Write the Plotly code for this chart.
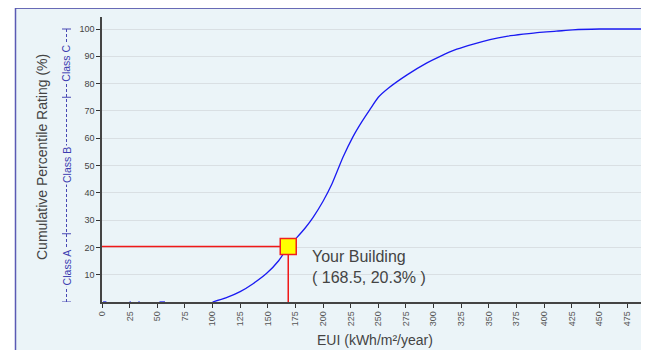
import plotly.graph_objects as go

# ---- data ----
eui = [1, 4, None, 25, 26, None, 33, 34, None, 52, 57, None,
       100, 112, 125, 137, 149, 160, 168.5, 176, 184, 191, 200, 208, 218, 227, 235,
       242.5, 250, 259, 276, 294, 306, 321, 336, 351, 366, 381, 396, 411, 426,
       450, 475, 495]
pct = [0, 0, None, 0, 0, None, 0, 0, None, 0, 0, None,
       0, 1.5, 3.8, 6.8, 10.5, 15.2, 20.3, 23.5, 27.2, 31.0, 36.9, 43.2, 53.0, 60.5, 66.0,
       70.6, 75.0, 78.3, 83.2, 87.6, 90.0, 92.6, 94.5, 96.1, 97.3, 98.1, 98.8, 99.2, 99.7,
       100, 100, 100]

building_eui = 168.5
building_pct = 20.3

x_ticks = list(range(0, 476, 25))
y_ticks = list(range(10, 101, 10))

class_bounds = [0, 25, 75, 100]
class_names = ["Class A", "Class B", "Class C"]

BG = "#EBF4F8"
OFF = 8                     # page body margin
W, H = 649 - OFF, 350 - OFF
L, T, R = 102 - OFF, 17 - OFF, 0
B = H - (302 - OFF)
PW, PH = W - L - R, H - T - B


def px(xp):   # page pixel x -> paper
    return (xp - OFF - L) / PW


def py(yp):   # page pixel y -> paper
    return (H - B - (yp - OFF)) / PH


FONT = "Liberation Sans, Arial"

fig = go.Figure()

fig.add_trace(go.Scatter(x=eui, y=pct, mode="lines", connectgaps=False,
                         line=dict(color="#1a1af2", width=1.3, shape="spline", smoothing=0.5),
                         hoverinfo="skip", showlegend=False))

fig.add_trace(go.Scatter(x=[0, building_eui, building_eui],
                         y=[building_pct, building_pct, 0], mode="lines",
                         line=dict(color="#f01818", width=1.5),
                         hoverinfo="skip", showlegend=False))

fig.add_trace(go.Scatter(x=[building_eui], y=[building_pct], mode="markers",
                         marker=dict(symbol="square", size=16, color="#ffff00",
                                     line=dict(color="#f02020", width=1.5)),
                         hoverinfo="skip", showlegend=False))

shapes = []
# white outer strips + border
shapes.append(dict(type="rect", xref="paper", yref="paper", x0=px(0), x1=px(15),
                   y0=py(H + 20), y1=py(-5), fillcolor="white", line=dict(width=0), layer="above"))
shapes.append(dict(type="rect", xref="paper", yref="paper", x0=px(0), x1=px(W + 20),
                   y0=py(7), y1=py(-5), fillcolor="white", line=dict(width=0), layer="above"))
shapes.append(dict(type="line", xref="paper", yref="paper", x0=px(15), x1=px(W + 20),
                   y0=py(8), y1=py(8), line=dict(color="#3c3ca0", width=1.5), layer="above"))
shapes.append(dict(type="line", xref="paper", yref="paper", x0=px(15.5), x1=px(15.5),
                   y0=py(8), y1=py(H + 20), line=dict(color="#5a5ab4", width=1.5), layer="above"))

# class scale
cx = px(66.5)
shapes.append(dict(type="line", xref="paper", yref="y", x0=cx, x1=cx,
                   y0=class_bounds[0], y1=class_bounds[-1],
                   line=dict(color="#4848b4", width=1, dash="3px,2px")))
for b in class_bounds:
    shapes.append(dict(type="line", xref="paper", yref="y", x0=px(62), x1=px(71),
                       y0=b, y1=b, line=dict(color="#4848b4", width=1)))

annotations = []
for i, name in enumerate(class_names):
    mid = (class_bounds[i] + class_bounds[i + 1]) / 2
    annotations.append(dict(x=cx, y=mid, xref="paper", yref="y", text=name,
                            xanchor="center", yanchor="middle",
                            textangle=-90, showarrow=False,
                            font=dict(family=FONT, size=10.5, color="#3c3cb0"),
                            bgcolor=BG, borderpad=1))

annotations.append(dict(x=px(42), y=py(157), xref="paper", yref="paper",
                        xanchor="center", yanchor="middle",
                        text="Cumulative Percentile Rating (%)", textangle=-90,
                        showarrow=False,
                        font=dict(family=FONT, size=14, color="#444444")))
annotations.append(dict(x=px(375), y=py(340), xref="paper", yref="paper",
                        xanchor="center", yanchor="middle",
                        text="EUI (kWh/m²/year)", showarrow=False,
                        font=dict(family=FONT, size=14, color="#444444")))
annotations.append(dict(x=188, y=13, xref="x", yref="y", xanchor="left", yanchor="middle",
                        align="left", text="Your Building<br>( 168.5, 20.3% )",
                        showarrow=False,
                        font=dict(family=FONT, size=16, color="#444444")))

fig.update_layout(
    width=W, height=H,
    margin=dict(l=L, r=R, t=T, b=B, pad=0),
    paper_bgcolor=BG, plot_bgcolor=BG,
    shapes=shapes, annotations=annotations,
    showlegend=False,
)

fig.update_xaxes(range=[0, 494.9], tickvals=x_ticks, ticktext=[str(v) for v in x_ticks],
                 tickangle=-90, showgrid=False, zeroline=False,
                 showline=True, linecolor="#444444", linewidth=1.5,
                 ticks="outside", ticklen=4, tickcolor="#333333", tickwidth=1,
                 tickfont=dict(family=FONT, size=9, color="#555555"))
fig.update_yaxes(range=[0, 104.4], tickvals=y_ticks, ticktext=[str(v) for v in y_ticks],
                 showgrid=True, gridcolor="#d9dfe3", gridwidth=1, zeroline=False,
                 showline=True, linecolor="#444444", linewidth=1.5,
                 ticks="outside", ticklen=4, tickcolor="#333333", tickwidth=1,
                 tickfont=dict(family=FONT, size=9, color="#444444"))

fig.write_html("out.html")
